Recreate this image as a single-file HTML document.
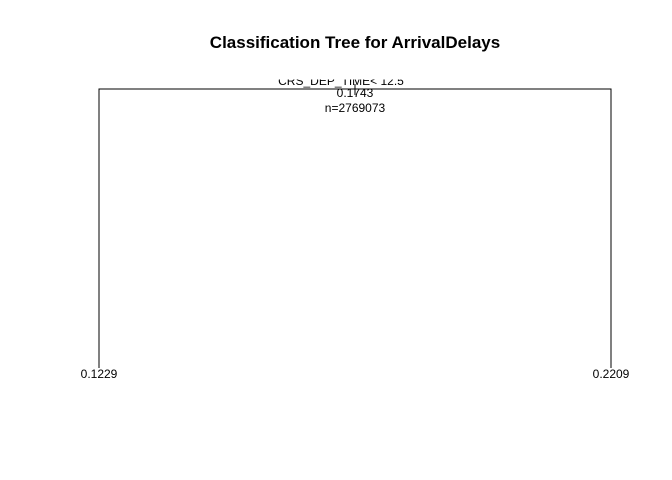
<!DOCTYPE html>
<html><head><meta charset="utf-8"><style>
body{margin:0;background:#fff;}
svg{display:block;font-family:"Liberation Sans",Arial,sans-serif;}
</style></head><body>
<svg width="672" height="480" viewBox="0 0 672 480">
<defs><clipPath id="c"><rect x="0" y="79.5" width="672" height="400"/></clipPath></defs>
<text x="355" y="48" text-anchor="middle" font-size="17" font-weight="bold">Classification Tree for ArrivalDelays</text>
<g id="tree"></g>
</svg>
<script>
const splitLabel = "CRS_DEP_TIME< 12.5";
const rootValue = "0.1743";
const rootN = 2769073;
const leafValues = ["0.1229", "0.2209"];
const ns = "http://www.w3.org/2000/svg";
const g = document.getElementById('tree');
function mk(tag, attrs, text){const e=document.createElementNS(ns,tag);for(const k in attrs)e.setAttribute(k,attrs[k]);if(text!==undefined)e.textContent=text;g.appendChild(e);return e;}
const xL=99,xR=611,yTop=89,yBot=368,xC=355;
let e;
e=mk('path',{d:`M${xL},${yBot} L${xL},${yTop} L${xR},${yTop} L${xR},${yBot}`,fill:'none',stroke:'#000','stroke-width':1});


e=mk('line',{x1:xC,y1:84,x2:xC,y2:95,stroke:'#000','stroke-width':1});


e=mk('text',{x:341,y:85,'text-anchor':'middle','font-size':12,'clip-path':'url(#c)'},splitLabel);


e=mk('text',{x:xC,y:97,'text-anchor':'middle','font-size':12},rootValue);


e=mk('text',{x:xC,y:112,'text-anchor':'middle','font-size':12},'n='+rootN);


[xL,xR].forEach((x,i)=>{
  const t=mk('text',{x:x,y:378,'text-anchor':'middle','font-size':12},leafValues[i]);
  
  
});
</script>
</body></html>
